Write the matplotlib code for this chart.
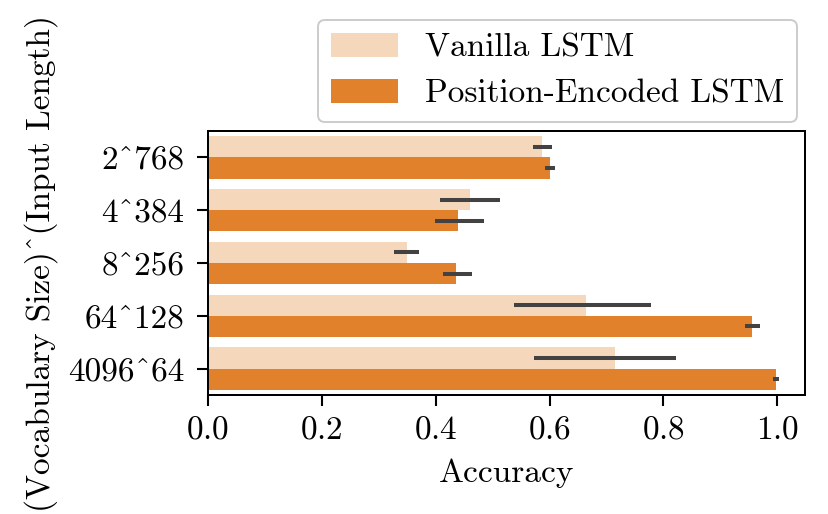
import numpy as np
import matplotlib
matplotlib.use("Agg")
import matplotlib.pyplot as plt

plt.rcParams['font.family'] = 'serif'
plt.rcParams['font.serif'] = ['cmr10']
plt.rcParams['mathtext.fontset'] = 'cm'
plt.rcParams['axes.formatter.use_mathtext'] = True

# data
labels = ['2^768', '4^384', '8^256', '64^128', '4096^64']
vanilla = [0.587, 0.460, 0.350, 0.664, 0.715]
vanilla_lo = [0.571, 0.408, 0.326, 0.538, 0.573]
vanilla_hi = [0.604, 0.513, 0.370, 0.779, 0.822]
pe = [0.601, 0.440, 0.436, 0.956, 0.998]
pe_lo = [0.592, 0.399, 0.413, 0.943, 0.993]
pe_hi = [0.610, 0.484, 0.463, 0.969, 1.003]

light = '#f5d8bb'
dark = '#e1812c'
errc = '#424242'
fs = 24

fig = plt.figure(figsize=(8.29, 5.14), dpi=100)
ax = fig.add_axes([0.2509, 0.2315, 0.971 - 0.2509, 0.7451 - 0.2315])

idx = np.arange(len(labels))
h = 0.4
van = np.array(vanilla)
pen = np.array(pe)
ax.barh(idx - h / 2, van, h, color=light, label='Vanilla LSTM')
ax.barh(idx + h / 2, pen, h, color=dark, label='Position-Encoded LSTM')
ax.errorbar(van, idx - h / 2,
            xerr=[van - np.array(vanilla_lo), np.array(vanilla_hi) - van],
            fmt='none', ecolor=errc, elinewidth=2.9, capsize=0)
ax.errorbar(pen, idx + h / 2,
            xerr=[pen - np.array(pe_lo), np.array(pe_hi) - pen],
            fmt='none', ecolor=errc, elinewidth=2.9, capsize=0)

ax.set_yticks(idx)
ax.set_yticklabels(labels)
ax.set_ylim(4.5, -0.5)
ax.set_xlim(0, 1.0487)
ax.set_xticks([0.0, 0.2, 0.4, 0.6, 0.8, 1.0])

for s in ax.spines.values():
    s.set_linewidth(1.44)
    s.set_color('black')
ax.tick_params(labelsize=fs, length=8, width=1.5, color='black')
ax.tick_params(axis='x', pad=7)
ax.tick_params(axis='y', pad=9)

ax.set_xlabel('Accuracy', fontsize=fs, labelpad=10)
ax.set_ylabel('(Vocabulary Size)^(Input Length)', fontsize=fs, labelpad=7)

leg = ax.legend(loc='lower right', bbox_to_anchor=(0.9866, 1.034),
                fontsize=fs, frameon=True, fancybox=True,
                edgecolor='#cccccc', framealpha=1, borderaxespad=0)
leg.get_frame().set_linewidth(1.4)

fig.savefig('out.png', dpi=100)
